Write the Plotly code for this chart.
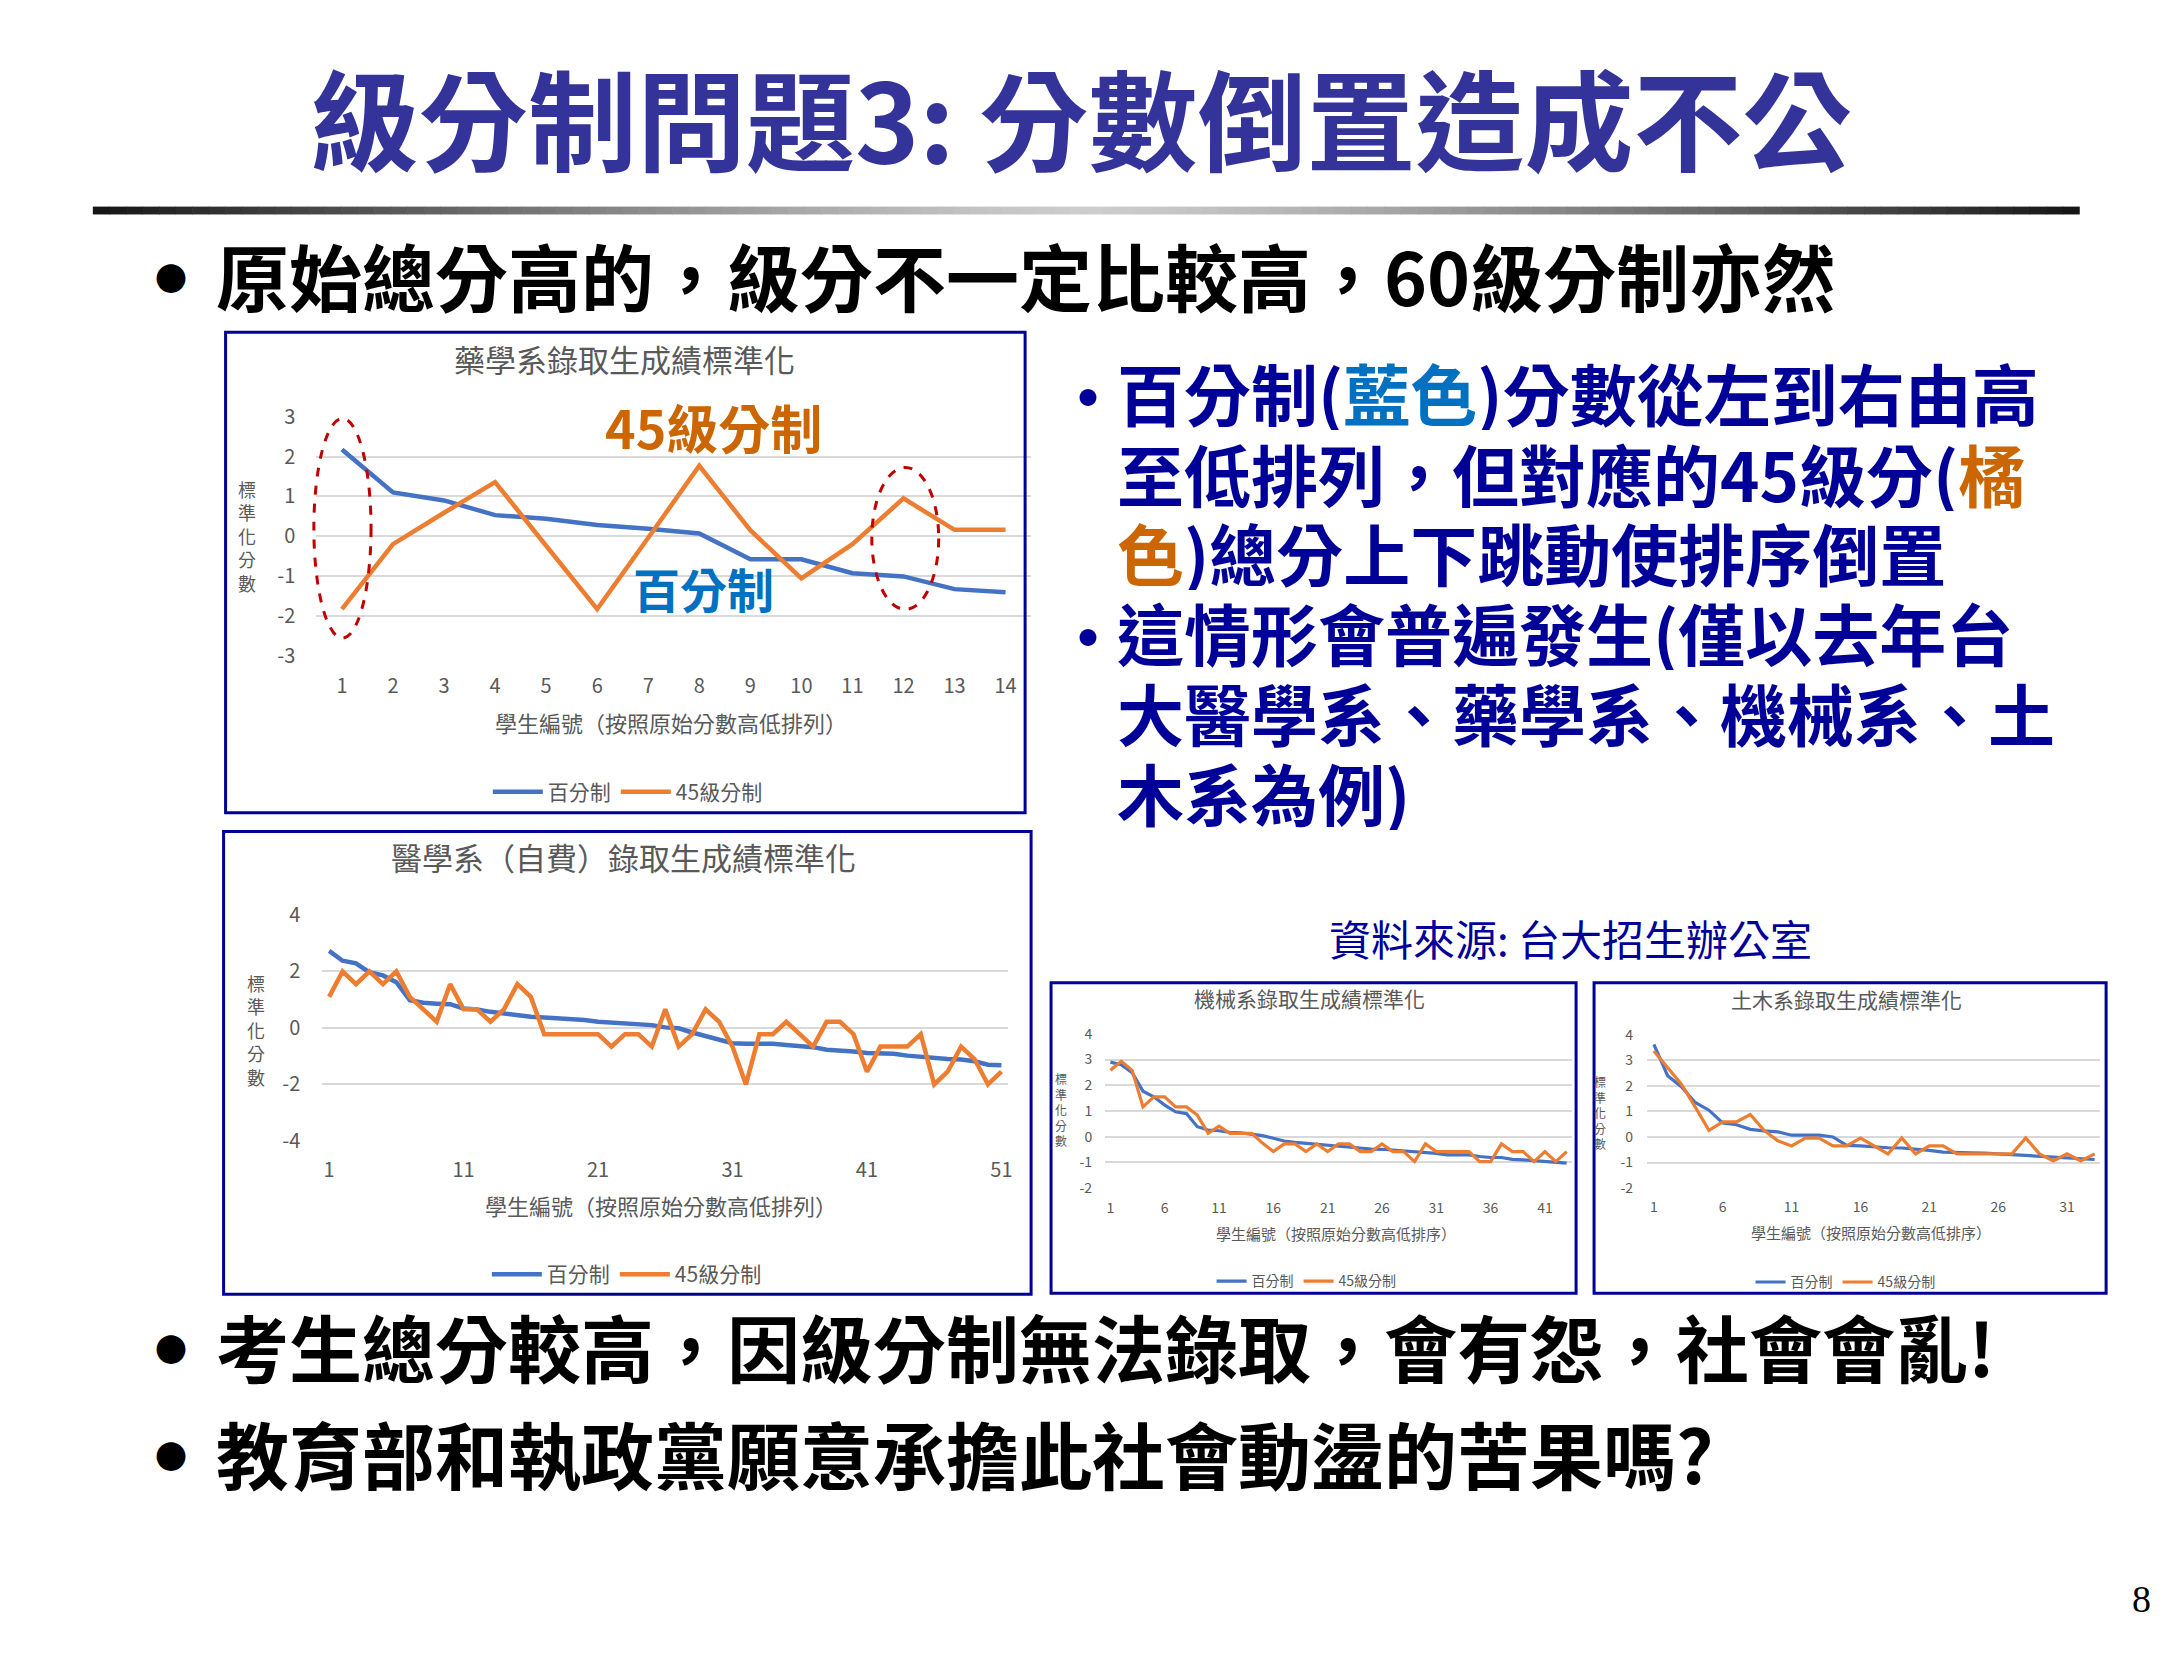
import plotly.graph_objects as go

W, H = 2168, 1655

# ---------------- data ----------------
series_names = ["百分制", "45級分制"]

pharm_pct = [2.18, 1.10, 0.90, 0.53, 0.44, 0.28, 0.19, 0.07, -0.58, -0.58, -0.93, -1.01, -1.33, -1.41]
pharm_45 = [-1.83, -0.20, 0.59, 1.36, -0.24, -1.83, -0.04, 1.77, 0.15, -1.06, -0.20, 0.95, 0.16, 0.16]

med_pct = [2.73, 2.38, 2.29, 1.97, 1.86, 1.62, 0.98, 0.89, 0.86, 0.84,
           0.69, 0.65, 0.57, 0.51, 0.46, 0.40, 0.37, 0.34, 0.34, 0.28,
           0.22, 0.19, 0.16, 0.16, 0.10, 0.02, -0.01, -0.16, -0.30, -0.42,
           -0.54, -0.56, -0.56, -0.56, -0.60, -0.63, -0.68, -0.77, -0.79, -0.83,
           -0.89, -0.91, -0.91, -0.98, -1.03, -1.06, -1.10, -1.12, -1.18, -1.30, -1.32]
med_45 = [1.10, 2.00, 1.55, 2.00, 1.55, 2.00, 1.10, 0.66, 0.22, 1.55,
          0.66, 0.66, 0.22, 0.66, 1.55, 1.10, -0.22, -0.22, -0.22, -0.22,
          -0.22, -0.66, -0.22, -0.22, -0.66, 0.66, -0.66, -0.22, 0.66, 0.22,
          -0.66, -2.00, -0.22, -0.22, 0.22, -0.22, -0.66, 0.22, 0.22, -0.22,
          -1.55, -0.66, -0.66, -0.66, -0.22, -2.00, -1.55, -0.66, -1.10, -2.00, -1.55]

mech_pct = [2.90, 2.80, 2.49, 1.77, 1.55, 1.23, 0.97, 0.90, 0.39, 0.26,
            0.23, 0.17, 0.15, 0.10, 0.04, -0.06, -0.17, -0.22, -0.26, -0.30,
            -0.32, -0.39, -0.41, -0.45, -0.48, -0.49, -0.52, -0.55, -0.58, -0.61,
            -0.65, -0.71, -0.71, -0.71, -0.77, -0.81, -0.81, -0.88, -0.90, -0.93,
            -0.94, -0.99, -1.03]
mech_45 = [2.58, 2.93, 2.58, 1.16, 1.55, 1.55, 1.16, 1.16, 0.84, 0.13,
           0.41, 0.13, 0.13, 0.13, -0.25, -0.58, -0.28, -0.28, -0.58, -0.28,
           -0.58, -0.28, -0.28, -0.58, -0.58, -0.28, -0.58, -0.58, -0.97, -0.28,
           -0.58, -0.58, -0.58, -0.58, -0.97, -0.97, -0.28, -0.58, -0.58, -0.97,
           -0.58, -0.97, -0.58]

civil_pct = [3.63, 2.40, 1.97, 1.35, 1.05, 0.55, 0.48, 0.30, 0.24, 0.20,
             0.07, 0.07, 0.07, 0.00, -0.33, -0.35, -0.39, -0.42, -0.43, -0.46,
             -0.52, -0.59, -0.59, -0.62, -0.63, -0.66, -0.68, -0.72, -0.75, -0.79,
             -0.81, -0.85, -0.88]
civil_45 = [3.37, 2.71, 2.07, 1.18, 0.26, 0.59, 0.59, 0.88, 0.26, -0.15,
            -0.35, -0.04, -0.04, -0.35, -0.35, -0.04, -0.35, -0.66, -0.04, -0.66,
            -0.35, -0.35, -0.66, -0.66, -0.66, -0.66, -0.66, -0.04, -0.66, -0.94,
            -0.66, -0.94, -0.66]

pharm_xticks = [1, 2, 3, 4, 5, 6, 7, 8, 9, 10, 11, 12, 13, 14]
pharm_yticks = [-3, -2, -1, 0, 1, 2, 3]
med_xticks = [1, 11, 21, 31, 41, 51]
med_yticks = [-4, -2, 0, 2, 4]
mech_xticks = [1, 6, 11, 16, 21, 26, 31, 36, 41]
mech_yticks = [-2, -1, 0, 1, 2, 3, 4]
civil_xticks = [1, 6, 11, 16, 21, 26, 31]
civil_yticks = [-2, -1, 0, 1, 2, 3, 4]

chart_titles = ["藥學系錄取生成績標準化", "醫學系（自費）錄取生成績標準化",
                "機械系錄取生成績標準化", "土木系錄取生成績標準化"]
xtitle_a = "學生編號（按照原始分數高低排列）"
xtitle_b = "學生編號（按照原始分數高低排序）"
ytitle = "標<br>準<br>化<br>分<br>數"

# ---------------- helpers ----------------
FONT = "Noto Sans CJK TC, Noto Sans CJK SC, sans-serif"
GREY = "#595959"
BLUE = "#4472C4"
ORANGE = "#ED7D31"
NAVY = "#000099"


def px(x):
    return x / W


def py(y):
    return 1 - y / H


def tick_text(vals):
    return [str(v) for v in vals]


# subplot geometry in pixels: (left, right, top, bottom), x range, y range
geo = {
    1: dict(box=(317, 1033, 408, 651), xr=[0.5, 14.5], yr=[-3, 3]),
    2: dict(box=(323, 1010, 915, 1145), xr=[0.5, 51.5], yr=[-4, 4]),
    3: dict(box=(1107, 1575, 1036, 1193), xr=[0.5, 43.5], yr=[-2, 4]),
    4: dict(box=(1650, 2104, 1037, 1193), xr=[0.5, 33.4], yr=[-2, 4]),
}


def data_to_paper(k, x, y):
    g = geo[k]
    l, r, t, b = g["box"]
    x0, x1 = g["xr"]
    y0, y1 = g["yr"]
    X = l + (x - x0) / (x1 - x0) * (r - l)
    Y = b - (y - y0) / (y1 - y0) * (b - t)
    return px(X), py(Y)


fig = go.Figure()

datasets = [
    (1, pharm_pct, pharm_45, 4.5, "legend"),
    (2, med_pct, med_45, 4.5, "legend2"),
    (3, mech_pct, mech_45, 3.2, "legend3"),
    (4, civil_pct, civil_45, 3.2, "legend4"),
]
for k, pct, g45, lw, lg in datasets:
    xs = list(range(1, len(pct) + 1))
    suffix = "" if k == 1 else str(k)
    fig.add_trace(go.Scatter(x=xs, y=pct, mode="lines", name=series_names[0],
                             line=dict(color=BLUE, width=lw),
                             xaxis="x" + suffix, yaxis="y" + suffix, legend=lg))
    fig.add_trace(go.Scatter(x=xs, y=g45, mode="lines", name=series_names[1],
                             line=dict(color=ORANGE, width=lw),
                             xaxis="x" + suffix, yaxis="y" + suffix, legend=lg))

axis_cfg = {
    1: dict(xt=pharm_xticks, yt=pharm_yticks, tf=20, xlen=12, ylen=16, gw=2),
    2: dict(xt=med_xticks, yt=med_yticks, tf=20, xlen=11, ylen=17, gw=2),
    3: dict(xt=mech_xticks, yt=mech_yticks, tf=14, xlen=7, ylen=9, gw=1.5),
    4: dict(xt=civil_xticks, yt=civil_yticks, tf=14, xlen=6, ylen=10, gw=1.5),
}

layout_axes = {}
for k in range(1, 5):
    g = geo[k]
    c = axis_cfg[k]
    l, r, t, b = g["box"]
    suffix = "" if k == 1 else str(k)
    layout_axes["xaxis" + suffix] = dict(
        domain=[px(l), px(r)], range=g["xr"], anchor="y" + suffix,
        tickmode="array", tickvals=c["xt"], ticktext=tick_text(c["xt"]),
        showgrid=False, zeroline=False, showline=False,
        ticks="outside", ticklen=c["xlen"], tickcolor="rgba(0,0,0,0)",
        tickfont=dict(family=FONT, size=c["tf"], color=GREY), fixedrange=True)
    layout_axes["yaxis" + suffix] = dict(
        domain=[py(b), py(t)], range=g["yr"], anchor="x" + suffix,
        tickmode="array", tickvals=c["yt"], ticktext=tick_text(c["yt"]),
        showgrid=True, gridcolor="#D9D9D9", gridwidth=c["gw"],
        zeroline=False, showline=False,
        ticks="outside", ticklen=c["ylen"], tickcolor="rgba(0,0,0,0)",
        tickfont=dict(family=FONT, size=c["tf"], color=GREY), fixedrange=True)

ann = []


def text(x, y, s, size, color, bold=False, xanchor="center", yanchor="middle",
         family=FONT, xref="paper", yref="paper", height=None):
    a = dict(x=x, y=y, xref=xref, yref=yref, text=s, showarrow=False,
             xanchor=xanchor, yanchor=yanchor,
             font=dict(family=family, size=size, color=color,
                       weight="bold" if bold else "normal"))
    if height is not None:
        a["height"] = height
    ann.append(a)


# slide title and bullets
text(px(1082), py(101), "級分制問題3: 分數倒置造成不公", 109, "#333399", bold=True)
text(px(171), py(266), "●", 32, "#000000")
text(px(214), py(263), "原始總分高的，級分不一定比較高，60級分制亦然", 73, "#000000",
     bold=True, xanchor="left")

right_lines = [
    '百分制(<span style="color:#0070C0">藍色</span>)分數從左到右由高',
    '至低排列，但對應的45級分(<span style="color:#CC6600">橘</span>',
    '<span style="color:#CC6600">色</span>)總分上下跳動使排序倒置',
    '這情形會普遍發生(僅以去年台',
    '大醫學系、藥學系、機械系、土',
    '木系為例)',
]
right_y = [382, 464, 545, 626, 707, 789]
for s, yy in zip(right_lines, right_y):
    text(px(1117), py(yy), s, 67, NAVY, bold=True, xanchor="left", height=78)
text(px(1090), py(385), "•", 66, NAVY, bold=True, height=70)
text(px(1090), py(629), "•", 66, NAVY, bold=True, height=70)

text(px(1573), py(938), "資料來源: 台大招生辦公室", 42, NAVY)

text(px(171), py(1356), "●", 32, "#000000")
text(px(214), py(1353), "考生總分較高，因級分制無法錄取，會有怨，社會會亂!", 73, "#000000",
     bold=True, xanchor="left")
text(px(171), py(1465), "●", 32, "#000000")
text(px(214), py(1462), "教育部和執政黨願意承擔此社會動盪的苦果嗎?", 73, "#000000",
     bold=True, xanchor="left")

text(px(2145), py(1611), "8", 38, "#000000", family="Liberation Serif, serif")

# chart titles and axis titles
text(px(626), py(349), chart_titles[0], 31, GREY)
text(px(672), py(719), xtitle_a, 22, GREY)
text(px(247), py(529), ytitle, 18, GREY)

text(px(625), py(855), chart_titles[1], 31, GREY)
text(px(662), py(1210), xtitle_a, 22, GREY)
text(px(256), py(1032), ytitle, 18, GREY)

text(px(1312), py(1000), chart_titles[2], 21, GREY)
text(px(1338), py(1239), xtitle_b, 15, GREY)
text(px(1063), py(1113), ytitle, 12, GREY)

text(px(1850), py(1001), chart_titles[3], 21, GREY)
text(px(1874), py(1238), xtitle_b, 15, GREY)
text(px(1603), py(1116), ytitle, 12, GREY)

# callouts in the pharmacy chart (data coordinates)
text(8.27, 2.76, "45級分制", 52, "#CC6600", bold=True, xref="x", yref="y")
text(8.09, -1.30, "百分制", 47, "#0070C0", bold=True, xref="x", yref="y")

shapes = []

# gradient rule under the title
N = 120
x_start, x_end = 93, 2083
for i in range(N):
    t = (i + 0.5) / N
    d = abs(t - 0.5) * 2
    g = int(round(205 - 185 * d ** 1.3))
    shapes.append(dict(type="rect", xref="paper", yref="paper",
                       x0=px(x_start + (x_end - x_start) * i / N),
                       x1=px(x_start + (x_end - x_start) * (i + 1) / N + 0.6),
                       y0=py(202), y1=py(194),
                       fillcolor=f"rgb({g},{g},{g})", line=dict(width=0)))

# chart frames
for (l, r, t, b) in [(226, 1027, 322, 811), (224, 1033, 830, 1301),
                     (1053, 1579, 984, 1300), (1597, 2110, 984, 1300)]:
    shapes.append(dict(type="rect", xref="paper", yref="paper",
                       x0=px(l), x1=px(r), y0=py(b), y1=py(t),
                       line=dict(color=NAVY, width=3), fillcolor="rgba(0,0,0,0)"))

# red dashed ellipses (pharmacy chart)
for (ex0, ex1, ey0, ey1) in [(0.45, 1.57, -2.56, 2.96), (11.38, 12.69, -1.84, 1.73)]:
    X0, Y0 = data_to_paper(1, ex0, ey0)
    X1, Y1 = data_to_paper(1, ex1, ey1)
    shapes.append(dict(type="circle", xref="paper", yref="paper",
                       x0=X0, x1=X1, y0=Y0, y1=Y1,
                       line=dict(color="#C00000", width=3, dash="dash")))

legend_common = dict(orientation="h", xanchor="center", yanchor="middle",
                     bgcolor="rgba(0,0,0,0)", traceorder="normal")

fig.update_layout(
    width=W, height=H,
    margin=dict(l=0, r=0, t=0, b=0),
    paper_bgcolor="white", plot_bgcolor="white",
    showlegend=True,
    legend=dict(x=px(629), y=py(790), itemwidth=50,
                font=dict(family=FONT, size=21, color=GREY), **legend_common),
    legend2=dict(x=px(628), y=py(1281), itemwidth=50,
                 font=dict(family=FONT, size=21, color=GREY), **legend_common),
    legend3=dict(x=px(1309), y=py(1288), itemwidth=30,
                 font=dict(family=FONT, size=14, color=GREY), **legend_common),
    legend4=dict(x=px(1849), y=py(1289), itemwidth=30,
                 font=dict(family=FONT, size=14, color=GREY), **legend_common),
    annotations=ann,
    shapes=shapes,
    **layout_axes,
)

fig.write_html(
    "out.html",
    config={"displayModeBar": False},
    post_script="document.body.style.margin='0';document.body.style.overflow='hidden';",
)
